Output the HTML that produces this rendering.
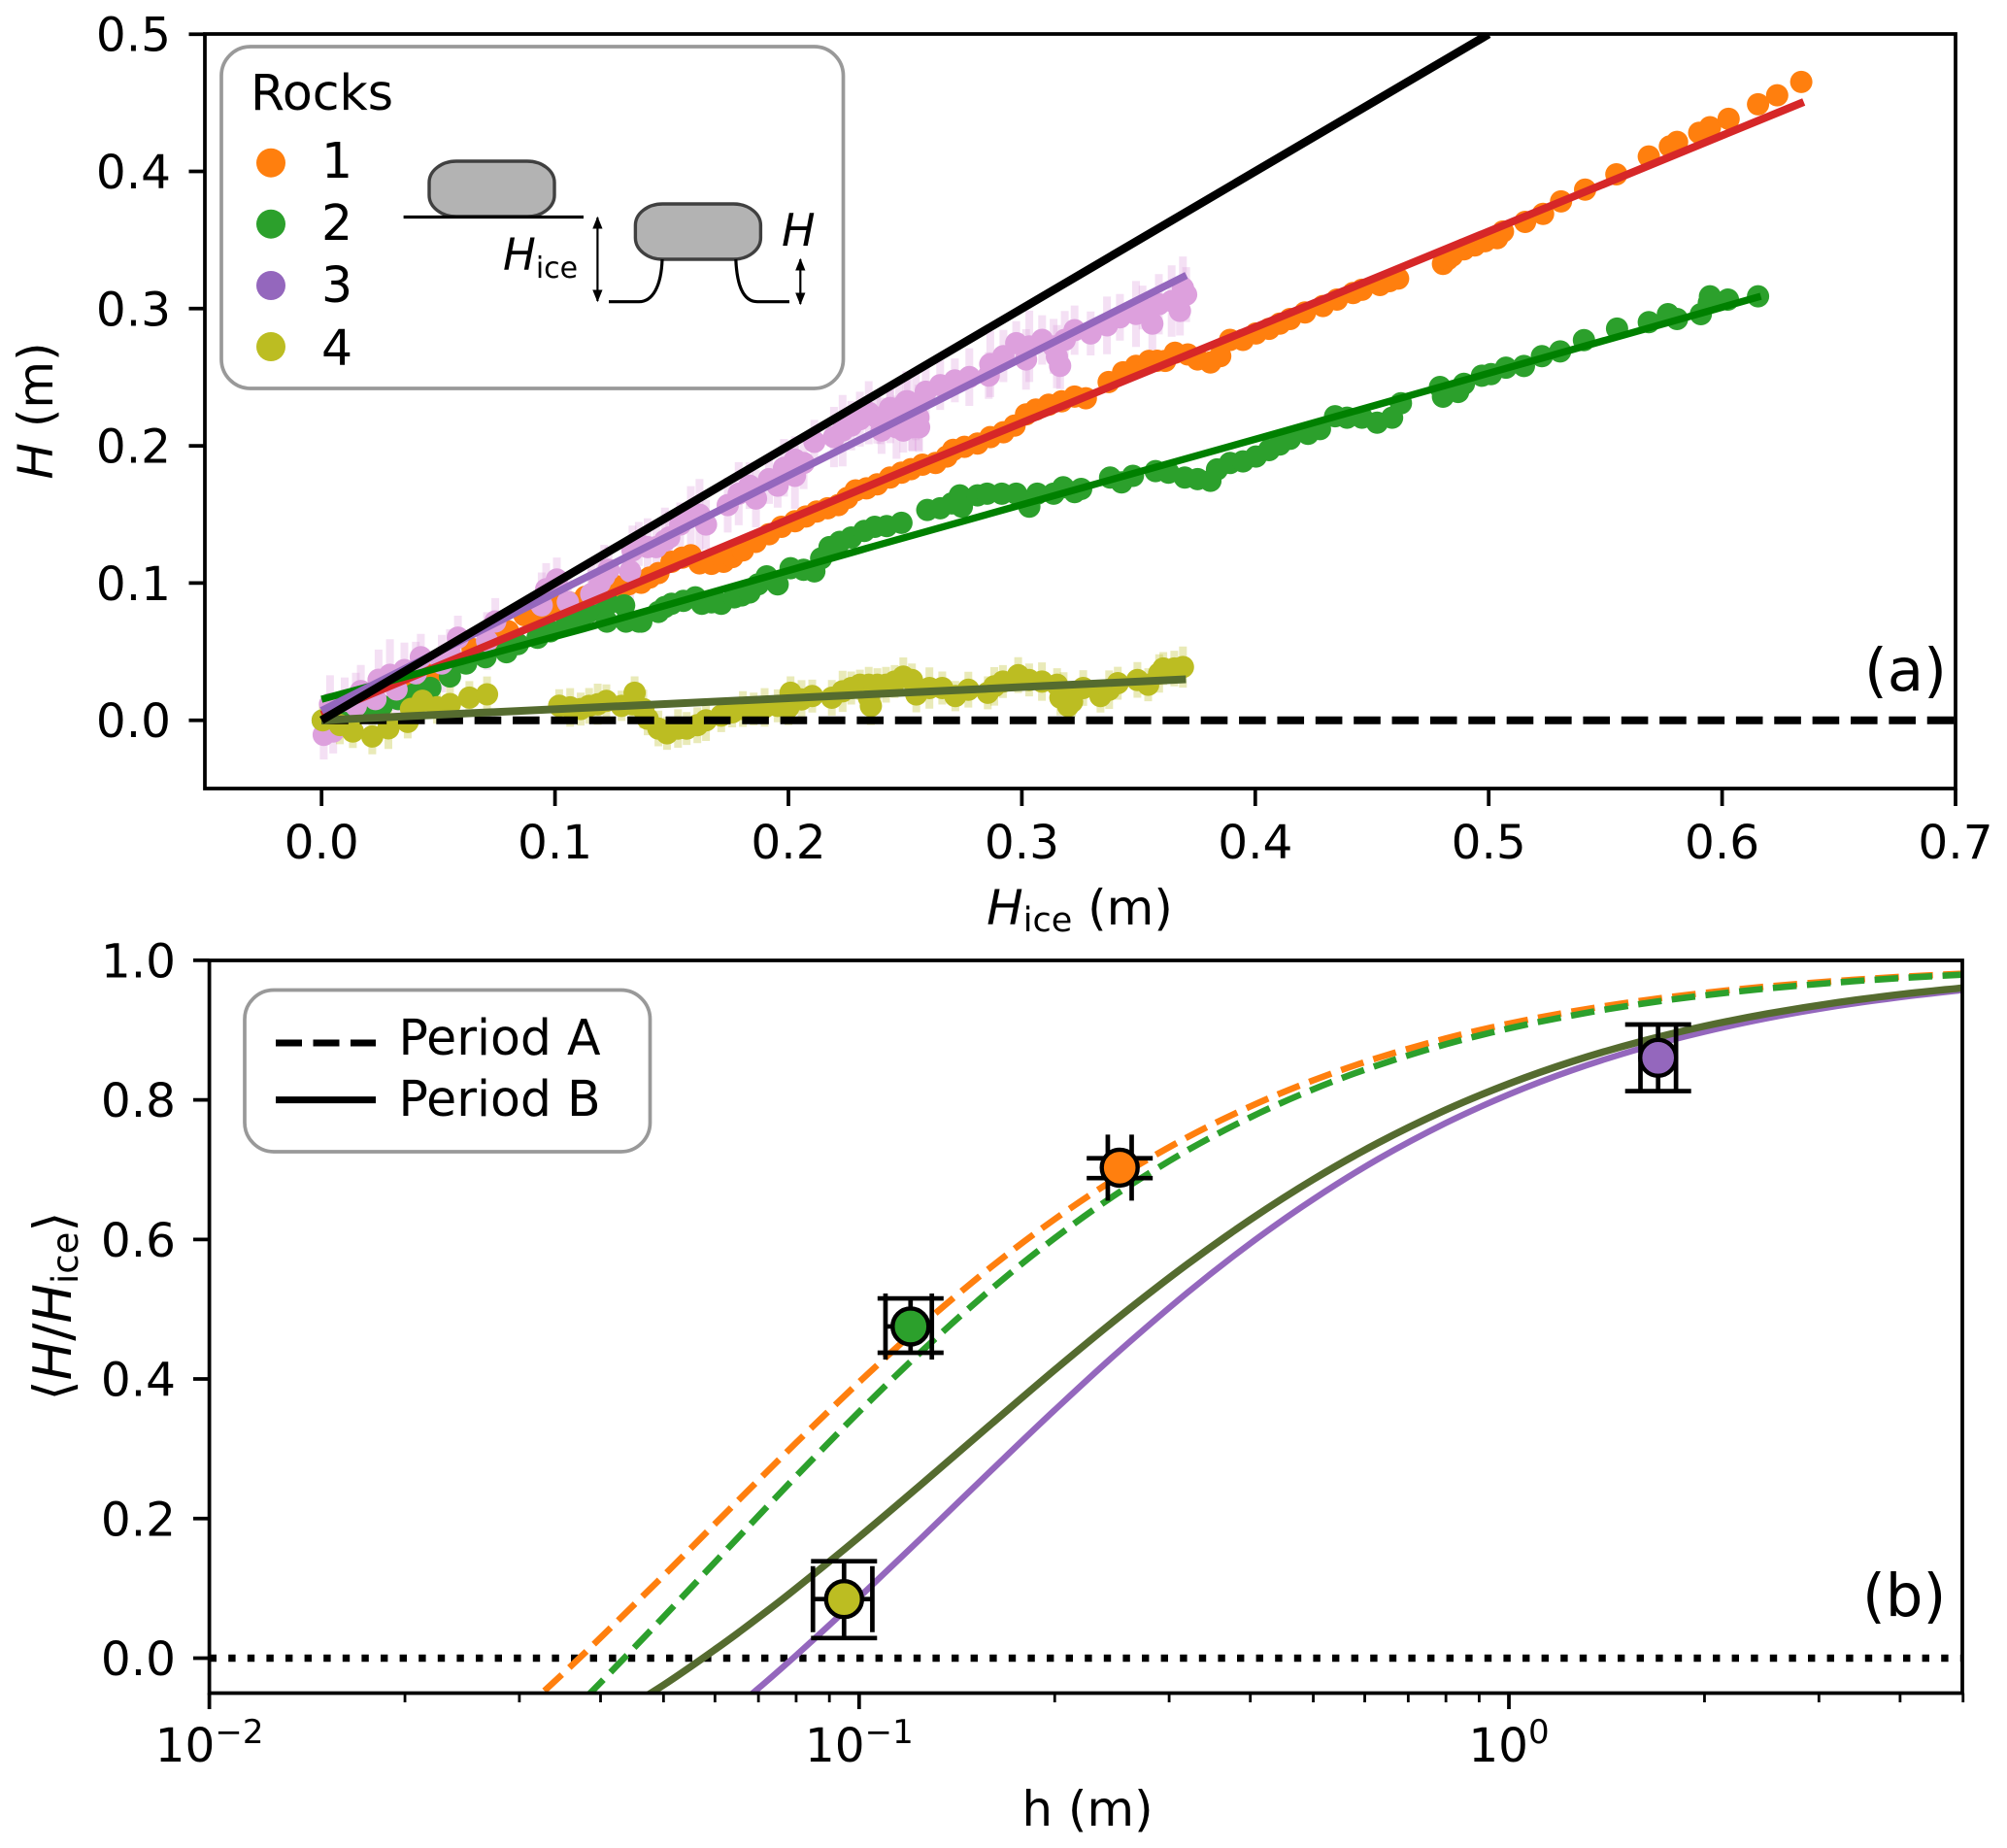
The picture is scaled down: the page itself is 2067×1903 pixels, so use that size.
<!DOCTYPE html>
<html lang="en">
<head>
<meta charset="utf-8">
<title>Rock pedestal height versus ice thickness</title>
<style>
html,body{margin:0;padding:0;background:#fff}
svg{display:block}
text{font-family:"DejaVu Sans","Liberation Sans",sans-serif;fill:#000}
.i{font-style:italic}
</style>
</head>
<body>
<svg id="chart" xmlns="http://www.w3.org/2000/svg" width="2067" height="1903" viewBox="0 0 2067 1903">
<defs>
<clipPath id="clip-a"><rect x="211" y="35" width="1803" height="777"/></clipPath>
<clipPath id="clip-b"><rect x="215.6" y="989" width="1805.4" height="754.5"/></clipPath>
<marker id="arrow-end" viewBox="0 0 10 10" refX="9" refY="5" markerWidth="13" markerHeight="26" markerUnits="userSpaceOnUse" orient="auto"><path d="M0 1 L10 5 L0 9 Z" fill="#000"/></marker>
<marker id="arrow-start" viewBox="0 0 10 10" refX="1" refY="5" markerWidth="13" markerHeight="26" markerUnits="userSpaceOnUse" orient="auto"><path d="M10 1 L0 5 L10 9 Z" fill="#000"/></marker>
</defs>

<g id="panel-a">
  <rect x="211" y="35" width="1803" height="777" fill="#fff"/>
  <g id="a-errors" clip-path="url(#clip-a)"></g>
  <g id="a-dots" clip-path="url(#clip-a)"></g>
  <g id="a-lines" clip-path="url(#clip-a)"></g>
  <rect x="211" y="35" width="1803" height="777" fill="none" stroke="#000" stroke-width="3.75"/>
  <g id="a-ticks"></g>
  <text x="1112" y="952" font-size="50" text-anchor="middle"><tspan class="i">H</tspan><tspan font-size="35" dy="7">ice</tspan><tspan dy="-7"> (m)</tspan></text>
  <text transform="translate(54,423) rotate(-90)" font-size="50" text-anchor="middle"><tspan class="i">H</tspan> (m)</text>
  <text x="1920" y="711" font-size="61">(a)</text>

  <g>
    <rect x="228" y="48" width="640.5" height="352" rx="30" ry="30" fill="#fff" fill-opacity=".95" stroke="#999" stroke-width="3.7"/>
    <text x="258" y="113" font-size="50.5">Rocks</text>
    <circle cx="279" cy="167.7" r="15" fill="#ff7f0e"/>
    <circle cx="279" cy="230.7" r="15" fill="#2ca02c"/>
    <circle cx="279" cy="294" r="15" fill="#9467bd"/>
    <circle cx="279" cy="357" r="15" fill="#bcbd22"/>
    <text x="331" y="183" font-size="50.5">1</text>
    <text x="331" y="247" font-size="50.5">2</text>
    <text x="331" y="311" font-size="50.5">3</text>
    <text x="331" y="376" font-size="50.5">4</text>
    <g>
      <rect x="442" y="166" width="129" height="57" rx="28" ry="22" fill="#b3b3b3" stroke="#404040" stroke-width="3.4"/>
      <line x1="415.6" y1="223.5" x2="601" y2="223.5" stroke="#000" stroke-width="3.2"/>
      <rect x="654.4" y="210" width="129" height="57" rx="28" ry="22" fill="#b3b3b3" stroke="#404040" stroke-width="3.4"/>
      <path d="M682 267 C681 295 672 310.7 658 310.7 L627 310.7" fill="none" stroke="#000" stroke-width="3.2"/>
      <path d="M757.8 267 C759 295 766 310.7 780 310.7 L813 310.7" fill="none" stroke="#000" stroke-width="3.2"/>
      <line x1="615.4" y1="224" x2="615.4" y2="310" stroke="#000" stroke-width="2.2" marker-start="url(#arrow-start)" marker-end="url(#arrow-end)"/>
      <line x1="824.3" y1="267" x2="824.3" y2="313" stroke="#000" stroke-width="2.2" marker-start="url(#arrow-start)" marker-end="url(#arrow-end)"/>
      <text x="805" y="253" font-size="46" class="i">H</text>
      <text x="518" y="278" font-size="45"><tspan class="i">H</tspan><tspan font-size="30" dy="8">ice</tspan></text>
    </g>
  </g>
</g>

<g id="panel-b">
  <rect x="215.6" y="989" width="1805.4" height="754.5" fill="#fff"/>
  <g id="b-lines" clip-path="url(#clip-b)"></g>
  <g id="b-points"></g>
  <rect x="215.6" y="989" width="1805.4" height="754.5" fill="none" stroke="#000" stroke-width="3.75"/>
  <g id="b-ticks"></g>
  <text x="1120" y="1880" font-size="50" text-anchor="middle">h (m)</text>
  <text transform="translate(73,1345) rotate(-90)" font-size="54" text-anchor="middle">⟨<tspan class="i">H</tspan>/<tspan class="i">H</tspan><tspan font-size="37" dy="7">ice</tspan><tspan dy="-7">⟩</tspan></text>
  <text x="1918" y="1664" font-size="61">(b)</text>
  <g>
    <rect x="252" y="1019.5" width="417.5" height="166.5" rx="30" ry="30" fill="#fff" stroke="#999" stroke-width="3.7"/>
    <line x1="284" y1="1074" x2="387" y2="1074" stroke="#000" stroke-width="7" stroke-dasharray="27 11.5"/>
    <line x1="284" y1="1132.6" x2="387" y2="1132.6" stroke="#000" stroke-width="7"/>
    <text x="410.5" y="1086" font-size="50.5">Period A</text>
    <text x="410.5" y="1149" font-size="50.5">Period B</text>
  </g>
</g>
</svg>

<script>
// ---------- Panel a data: ice thickness (m) and pedestal height (m) ----------
const aXTickValues = [0, 0.1, 0.2, 0.3, 0.4, 0.5, 0.6, 0.7];
const aXTickLabels = ['0.0', '0.1', '0.2', '0.3', '0.4', '0.5', '0.6', '0.7'];
const aYTickValues = [0, 0.1, 0.2, 0.3, 0.4, 0.5];
const aYTickLabels = ['0.0', '0.1', '0.2', '0.3', '0.4', '0.5'];

const rock1X = [.0219,.033,.0383,.0466,.0555,.0647,.0725,.0799,.0869,.0915,.0958,.101,.106,.113,.118,.1229,.1259,.1315,.1369,.1405,.1443,.1499,.1545,.1582,.1619,.167,.1722,.176,.1805,.186,.1917,.197,.2028,.2075,.2121,.2168,.2214,.2252,.2288,.2335,.238,.2435,.2484,.2525,.2574,.263,.2678,.2706,.2754,.281,.2865,.2921,.2969,.3018,.306,.3115,.317,.3226,.3274,.3372,.3434,.3489,.3545,.358,.3614,.3656,.3711,.3753,.3808,.385,.3892,.3947,.4003,.4059,.4105,.4149,.4213,.429,.435,.4419,.4457,.4534,.4575,.4612,.4804,.4825,.4843,.4894,.494,.4984,.5036,.5061,.5156,.5233,.531,.5413,.5547,.5686,.5776,.5807,.5902,.5948,.6028,.6154,.6236,.6339];
const rock1Y = [.02,.0271,.0272,.0331,.043,.0519,.058,.0649,.0766,.079,.0805,.083,.086,.09,.093,.0955,.0979,.099,.1002,.104,.1073,.1155,.1185,.1203,.1144,.114,.1155,.119,.1238,.13,.1356,.141,.145,.1485,.1521,.1545,.1568,.162,.1675,.169,.172,.1769,.1804,.183,.1863,.1875,.1922,.197,.1993,.2017,.2064,.2099,.2147,.2229,.2265,.23,.2324,.2359,.2347,.2465,.2536,.2583,.2619,.262,.2619,.2678,.2666,.263,.2607,.2654,.2772,.2772,.2819,.2853,.289,.2924,.2972,.3019,.3066,.3113,.3137,.3172,.32,.3219,.3326,.336,.3385,.3432,.346,.3491,.3514,.3562,.3632,.3691,.3781,.3868,.3979,.4109,.4182,.4215,.4281,.4322,.4383,.4489,.4555,.4652];

const rock2X = [.0005,.007,.0145,.0189,.0258,.0328,.0397,.0466,.055,.0619,.0702,.0792,.0841,.0925,.098,.105,.111,.1146,.1185,.1222,.1229,.1296,.1304,.1359,.137,.1443,.147,.1499,.155,.1601,.1629,.167,.1712,.1768,.18,.1833,.187,.1907,.1954,.2009,.2065,.2111,.214,.2176,.222,.2269,.2325,.237,.2421,.2484,.2595,.265,.27,.2734,.2743,.281,.2851,.2914,.2976,.3032,.3066,.3136,.3177,.3226,.3254,.3378,.3427,.3476,.3573,.3628,.3698,.3753,.3808,.3836,.3892,.3947,.4003,.4059,.4105,.4149,.4226,.4277,.4342,.4393,.4457,.4522,.4586,.4624,.4791,.4804,.4869,.4894,.4971,.501,.5074,.5151,.5228,.5306,.5408,.555,.5686,.5768,.5807,.5909,.5943,.5948,.6025,.6154];
const rock2Y = [0,.0023,.0047,.0083,.0106,.0154,.0189,.0236,.0319,.0413,.046,.0496,.0555,.0601,.0648,.07,.0743,.079,.0814,.0719,.0849,.0837,.0719,.0719,.0719,.079,.0825,.0849,.087,.0896,.0849,.086,.0849,.0896,.091,.0931,.099,.1049,.099,.1108,.1096,.1085,.118,.1262,.13,.1332,.138,.141,.1415,.1439,.1533,.1545,.158,.1639,.1557,.1639,.1651,.1651,.1651,.1557,.1651,.1651,.1698,.1663,.1686,.1769,.1734,.1781,.1816,.1804,.1769,.1757,.1745,.1828,.1875,.1887,.1922,.1969,.201,.2051,.2087,.2122,.2216,.2205,.2205,.2169,.2205,.2311,.2429,.2358,.2393,.2452,.2511,.2523,.257,.2582,.2653,.2688,.2771,.2854,.2901,.296,.2924,.296,.3042,.309,.3066,.309];

const rock3X = [.0009,.005,.0036,.0099,.0147,.0168,.0231,.0244,.0293,.0321,.0355,.0404,.0425,.0515,.055,.0584,.0709,.0744,.0943,.0962,.1008,.1055,.1157,.1155,.1192,.1211,.1229,.1322,.1332,.1359,.1397,.1434,.1471,.1489,.1536,.1582,.1619,.1647,.174,.1787,.1833,.1861,.1917,.1954,.1981,.2028,.2028,.2065,.2111,.2195,.2232,.2269,.2306,.2344,.2399,.2436,.2474,.2492,.2511,.2529,.2557,.238,.2435,.2505,.2546,.256,.2532,.2463,.2394,.2588,.265,.2713,.2775,.2858,.2865,.2921,.2976,.3018,.3032,.3087,.3136,.315,.3164,.3184,.3226,.3295,.3365,.342,.3489,.3559,.3517,.3587,.3642,.3677,.3704,.369];
const rock3Y = [-.0106,-.0082,.0118,.0142,.0106,.0213,.0154,.0295,.0331,.0224,.0366,.0342,.046,.0413,.0484,.0602,.0578,.072,.0837,.0955,.1026,.0861,.092,.0919,.1002,.1049,.1097,.1085,.1238,.1285,.1262,.1262,.1309,.1332,.1427,.1486,.1498,.1427,.1568,.1651,.171,.1616,.1757,.171,.184,.1899,.1781,.1875,.2029,.2064,.2111,.2147,.2194,.2241,.2111,.2229,.2276,.2111,.2324,.2135,.2206,.2206,.2276,.2324,.23,.2135,.2158,.2135,.2182,.2394,.2442,.2477,.2501,.2512,.2595,.2654,.2748,.263,.2725,.2772,.2725,.265,.2583,.2772,.2843,.2819,.2878,.2937,.2961,.289,.3008,.3032,.3055,.2984,.3102,.315];
const rock3Err = [.018, .016, .021, .017, .024, .019, .016, .022, .026, .018, .02, .023, .017, .021];

const rock4X = [.0005,.0078,.0134,.0217,.0286,.0369,.0383,.0432,.0494,.055,.0633,.0709,.1018,.1065,.111,.1146,.1183,.122,.1285,.1332,.1341,.1378,.1397,.1443,.148,.1527,.1564,.161,.1647,.1712,.1759,.1805,.1851,.1898,.1954,.2,.2009,.2056,.2102,.2186,.2232,.2269,.2306,.2344,.2345,.2353,.2381,.2418,.2455,.2492,.2529,.2548,.2604,.2659,.2715,.2771,.2854,.2882,.2919,.2984,.3031,.3086,.3151,.3165,.3179,.3198,.3215,.3263,.3337,.3374,.3411,.3495,.3541,.3588,.3606,.3653,.369];
const rock4Y = [0,-.0035,-.0082,-.0118,-.0059,-.0012,.0083,.0142,.0095,.0118,.0165,.0189,.0106,.0094,.0082,.0105,.0117,.0141,.0105,.0117,.02,.0082,.0011,-.006,-.0095,-.006,-.006,-.0036,-.0001,.0034,.0058,.0082,.0082,.0094,.0105,.0094,.02,.0152,.0176,.0164,.0211,.0235,.0259,.0259,.0165,.0105,.0259,.0259,.0282,.0318,.0294,.0188,.0235,.0235,.0176,.0223,.02,.0247,.0282,.0329,.0294,.0282,.0259,.0165,.02,.0105,.0135,.0235,.0176,.0223,.027,.0294,.0259,.0341,.0377,.0377,.0388];
const rock4Err = [.012, .014, .012, .013, .015, .012, .011, .013, .012, .014, .012, .013];

const fit1X = [0, .122, .253, .403, .635];
const fit1Y = [.004, .0908, .184, .2885, .4506];
const fit2X = [0, .112, .2366, .403, .6166];
const fit2Y = [.0153, .0665, .1268, .2062, .309];
const fit3X = [0, .1118, .2585, .3705];
const fit3Y = [.007, .1028, .2283, .3243];
const fit4X = [0, .19, .3703];
const fit4Y = [0, .0153, .0299];
const oneToOneX = [0, .5];
const oneToOneY = [0, .5];
const zeroLineX = [0, .7];
const zeroLineY = [0, 0];

// ---------- Panel b data: debris thickness h (m) and mean height ratio ----------
const bXTickValues = [0.01, 0.1, 1];
const bXTickBase = ['10', '10', '10'];
const bXTickExp = ['\u22122', '\u22121', '0'];
const bXMinorValues = [.02,.03,.04,.05,.06,.07,.08,.09,.2,.3,.4,.5,.6,.7,.8,.9,2,3,4,5];
const bYTickValues = [0, 0.2, 0.4, 0.6, 0.8, 1];
const bYTickLabels = ['0.0', '0.2', '0.4', '0.6', '0.8', '1.0'];

const curve1H = [.03,.035,.04,.05,.06,.07,.08,.1,.125,.16,.2,.25,.32,.4,.5,.63,.8,1,1.25,1.6,2,2.5,3.2,4,5];
const curve1V = [-.0798,-.0223,.0293,.1183,.1924,.255,.3086,.3956,.4777,.5612,.629,.689,.7464,.7906,.8281,.8605,.8881,.9093,.9266,.9421,.9533,.9625,.9705,.9763,.981];
const curve2H = [.035,.04,.05,.06,.07,.08,.1,.125,.16,.2,.25,.32,.4,.5,.63,.8,1,1.25,1.6,2,2.5,3.2,4,5];
const curve2V = [-.0895,-.035,.0591,.1375,.2038,.2607,.3531,.4405,.5295,.6019,.6661,.7276,.775,.8152,.85,.8797,.9024,.921,.9377,.9498,.9596,.9683,.9745,.9795];
const curve3H = [.06,.07,.08,.09,.1,.125,.16,.2,.25,.32,.4,.5,.63,.8,1,1.25,1.6,2,2.5,3.2,4,5];
const curve3V = [-.0955,-.0433,.0041,.0474,.0871,.1732,.2697,.3556,.4382,.5237,.5943,.6577,.7155,.7669,.8078,.8424,.8741,.8976,.917,.9344,.9471,.9574];
const curve4H = [.04,.05,.06,.07,.08,.1,.125,.16,.2,.25,.32,.4,.5,.63,.8,1,1.25,1.6,2,2.5,3.2,4,5];
const curve4V = [-.0946,-.0385,.0122,.0581,.1,.1735,.25,.3361,.413,.4873,.5645,.6284,.686,.7387,.7857,.8231,.8548,.884,.9056,.9234,.9395,.9511,.9606];
const zeroDotX = [0.01, 5];
const zeroDotY = [0, 0];

const meanH = [.2518, .12, 1.697, .0948];
const meanV = [.7029, .4753, .8603, .0846];
const meanHLow = [.2414, .1098, 1.594, .0849];
const meanHHigh = [.2627, .1294, 1.808, .1048];
const meanVLow = [.6879, .4377, .8126, .0288];
const meanVHigh = [.7163, .5155, .908, .1389];
const meanColors = ['#ff7f0e', '#2ca02c', '#9467bd', '#bcbd22'];

// ---------- Axis functions ----------
const xA = v => 331.2 + v * 2404;
const yA = v => 741.7 - v * 1413;
const xB = v => 215.6 + (Math.log10(v) + 2) * 669.2;
const yB = v => 1707.5 - v * 718.6;

const NS = 'http://www.w3.org/2000/svg';
const g = id => document.getElementById(id);

function make(parent, tag, name, attrs) {
  const el = document.createElementNS(NS, tag);
  
  
  for (const k in attrs) el.setAttribute(k, attrs[k]);
  parent.appendChild(el);
  return el;
}

function polyline(parent, name, xs, ys, fx, fy, stroke, width, dash, cap) {
  const pts = xs.map((x, i) => fx(x).toFixed(1) + ',' + fy(ys[i]).toFixed(1)).join(' ');
  const a = {points: pts, fill: 'none', stroke: stroke, 'stroke-width': width, 'stroke-linecap': cap || 'butt', 'stroke-linejoin': 'round'};
  if (dash) a['stroke-dasharray'] = dash;
  return make(parent, 'polyline', name, a);
}

function smooth(parent, name, xs, ys, stroke, width, dash) {
  const P = xs.map((x, i) => [xB(x), yB(ys[i])]);
  let d = 'M' + P[0][0].toFixed(1) + ' ' + P[0][1].toFixed(1);
  for (let i = 0; i < P.length - 1; i++) {
    const p0 = P[Math.max(i - 1, 0)], p1 = P[i], p2 = P[i + 1], p3 = P[Math.min(i + 2, P.length - 1)];
    const c1x = p1[0] + (p2[0] - p0[0]) / 6, c1y = p1[1] + (p2[1] - p0[1]) / 6;
    const c2x = p2[0] - (p3[0] - p1[0]) / 6, c2y = p2[1] - (p3[1] - p1[1]) / 6;
    d += ' C' + [c1x, c1y, c2x, c2y, p2[0], p2[1]].map(n => n.toFixed(1)).join(' ');
  }
  const a = {d: d, fill: 'none', stroke: stroke, 'stroke-width': width};
  if (dash) a['stroke-dasharray'] = dash;
  return make(parent, 'path', name, a);
}

function dots(xs, ys, fill, name) {
  xs.forEach((x, i) => {
    make(g('a-dots'), 'circle', name, {cx: xA(x).toFixed(1), cy: yA(ys[i]).toFixed(1), r: 11.5, fill: fill});
  });
}

function errs(xs, ys, es, color, name) {
  xs.forEach((x, i) => {
    const e = es[i % es.length];
    make(g('a-errors'), 'line', name, {x1: xA(x).toFixed(1), x2: xA(x).toFixed(1), y1: yA(ys[i] + e).toFixed(1), y2: yA(ys[i] - e).toFixed(1), stroke: color, 'stroke-width': 8, 'stroke-opacity': .32});
  });
}

// ---------- Panel a marks ----------
errs(rock3X, rock3Y, rock3Err, '#dda0dd', 'error-bar-rock-3');
errs(rock4X, rock4Y, rock4Err, '#bcbd22', 'error-bar-rock-4');
dots(rock1X, rock1Y, '#ff7f0e', 'point-rock-1');
dots(rock2X, rock2Y, '#2ca02c', 'point-rock-2');
dots(rock3X, rock3Y, '#dda0dd', 'point-rock-3');
dots(rock4X, rock4Y, '#bcbd22', 'point-rock-4');
polyline(g('a-lines'), 'zero-line', zeroLineX, zeroLineY, xA, yA, '#000', 8, '27.6 11.77');
polyline(g('a-lines'), 'fit-line-rock-1', fit1X, fit1Y, xA, yA, '#d62728', 8);
polyline(g('a-lines'), 'fit-line-rock-2', fit2X, fit2Y, xA, yA, '#008000', 7.4);
polyline(g('a-lines'), 'fit-line-rock-3', fit3X, fit3Y, xA, yA, '#9467bd', 7.6);
polyline(g('a-lines'), 'fit-line-rock-4', fit4X, fit4Y, xA, yA, '#556b2f', 8);
polyline(g('a-lines'), 'one-to-one-line', oneToOneX, oneToOneY, xA, yA, '#000', 8.6);

// ---------- Panel a ticks ----------
aXTickValues.forEach((v, i) => {
  make(g('a-ticks'), 'line', 'x-tick-a', {x1: xA(v), x2: xA(v), y1: 812, y2: 830, stroke: '#000', 'stroke-width': 3.75});
  const t = make(g('a-ticks'), 'text', 'x-tick-label-a', {x: xA(v), y: 884, 'font-size': 48.5, 'text-anchor': 'middle'});
  t.textContent = aXTickLabels[i];
});
aYTickValues.forEach((v, i) => {
  make(g('a-ticks'), 'line', 'y-tick-a', {x1: 194.5, x2: 211, y1: yA(v), y2: yA(v), stroke: '#000', 'stroke-width': 3.75});
  const t = make(g('a-ticks'), 'text', 'y-tick-label-a', {x: 176, y: yA(v) + 17.5, 'font-size': 48.5, 'text-anchor': 'end'});
  t.textContent = aYTickLabels[i];
});

// ---------- Panel b marks ----------
polyline(g('b-lines'), 'zero-dotted-line', zeroDotX, zeroDotY, xB, yB, '#000', 7.4, '7.4 12.2');
smooth(g('b-lines'), 'curve-rock-1', curve1H, curve1V, '#ff7f0e', 6.6, '24.4 10.6');
smooth(g('b-lines'), 'curve-rock-2', curve2H, curve2V, '#2ca02c', 6.6, '24.4 10.6');
smooth(g('b-lines'), 'curve-rock-3', curve3H, curve3V, '#9467bd', 6.4);
smooth(g('b-lines'), 'curve-rock-4', curve4H, curve4V, '#556b2f', 7.4);

meanH.forEach((h, i) => {
  const cx = xB(h), cy = yB(meanV[i]);
  const lx = xB(meanHLow[i]), hx = xB(meanHHigh[i]), ly = yB(meanVLow[i]), hy = yB(meanVHigh[i]);
  const box = make(g('b-points'), 'g', 'mean-point-' + (i + 1), {});
  const s = {stroke: '#000', 'stroke-width': 4.7};
  make(box, 'line', 'y-error-stem', Object.assign({x1: cx, x2: cx, y1: hy, y2: ly}, s));
  make(box, 'line', 'x-error-stem', Object.assign({x1: lx, x2: hx, y1: cy, y2: cy}, s));
  make(box, 'line', 'y-error-cap-high', Object.assign({x1: cx - 34, x2: cx + 34, y1: hy, y2: hy}, s));
  make(box, 'line', 'y-error-cap-low', Object.assign({x1: cx - 34, x2: cx + 34, y1: ly, y2: ly}, s));
  make(box, 'line', 'x-error-cap-low', Object.assign({x1: lx, x2: lx, y1: cy - 34, y2: cy + 34}, s));
  make(box, 'line', 'x-error-cap-high', Object.assign({x1: hx, x2: hx, y1: cy - 34, y2: cy + 34}, s));
  make(box, 'circle', 'mean-marker', {cx: cx, cy: cy, r: 18.5, fill: meanColors[i], stroke: '#000', 'stroke-width': 4.4});
});

// ---------- Panel b ticks ----------
bXTickValues.forEach((v, i) => {
  make(g('b-ticks'), 'line', 'x-major-tick-b', {x1: xB(v), x2: xB(v), y1: 1743.5, y2: 1760, stroke: '#000', 'stroke-width': 3.75});
  const t = make(g('b-ticks'), 'text', 'x-tick-label-b', {x: xB(v), y: 1814, 'font-size': 48.5, 'text-anchor': 'middle'});
  t.textContent = bXTickBase[i];
  const sup = document.createElementNS(NS, 'tspan');
  sup.setAttribute('font-size', '34');
  sup.setAttribute('dy', '-19');
  sup.textContent = bXTickExp[i];
  t.appendChild(sup);
});
bXMinorValues.forEach(v => {
  make(g('b-ticks'), 'line', 'x-minor-tick-b', {x1: xB(v), x2: xB(v), y1: 1743.5, y2: 1753, stroke: '#000', 'stroke-width': 2.8});
});
bYTickValues.forEach((v, i) => {
  make(g('b-ticks'), 'line', 'y-tick-b', {x1: 199, x2: 215.6, y1: yB(v), y2: yB(v), stroke: '#000', 'stroke-width': 3.75});
  const t = make(g('b-ticks'), 'text', 'y-tick-label-b', {x: 181, y: yB(v) + 17.5, 'font-size': 48.5, 'text-anchor': 'end'});
  t.textContent = bYTickLabels[i];
});
</script>
</body>
</html>
